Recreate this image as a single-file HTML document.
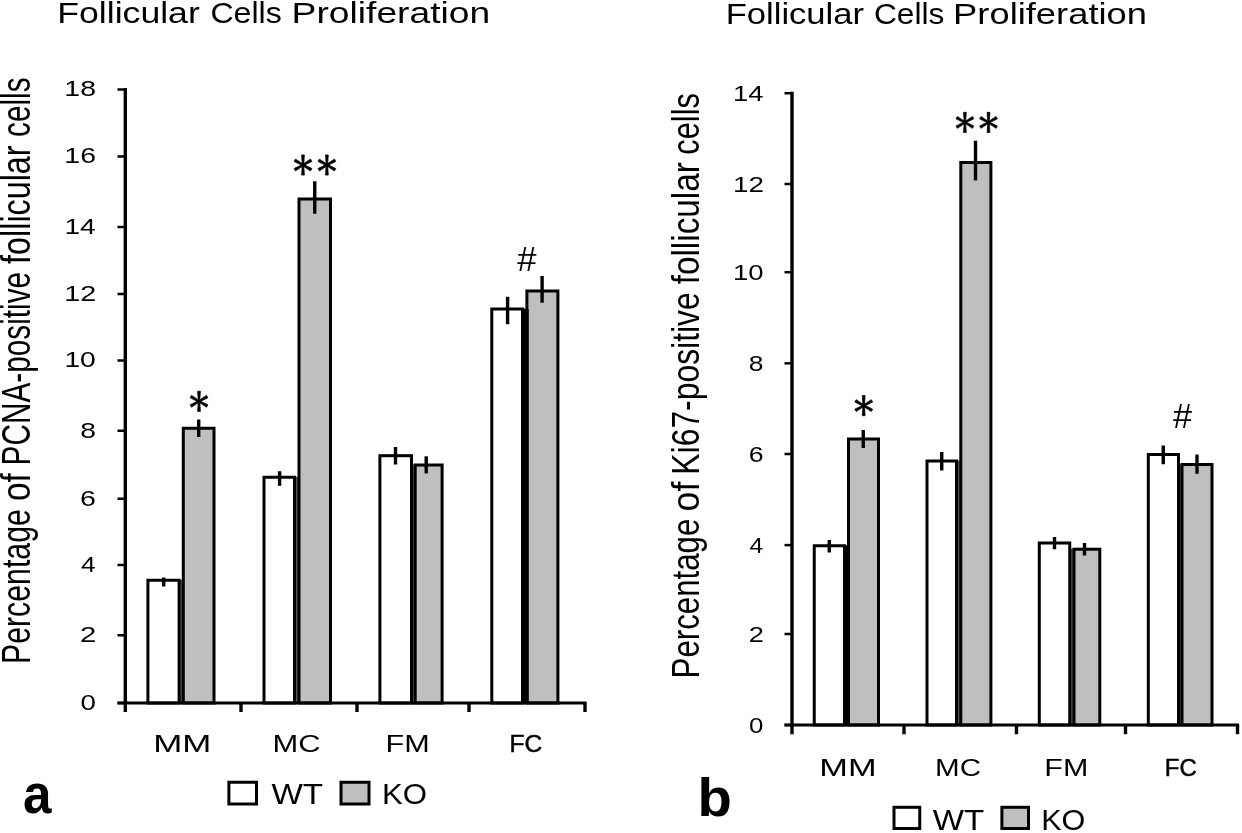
<!DOCTYPE html>
<html><head><meta charset="utf-8"><title>Follicular Cells Proliferation</title>
<style>
html,body{margin:0;padding:0;background:#fff;}
body{width:1242px;height:833px;overflow:hidden;}
svg{display:block;will-change:transform;filter:blur(0.45px);font-family:"Liberation Sans",sans-serif;}
</style></head><body>
<svg width="1242" height="833" viewBox="0 0 1242 833">
<rect width="1242" height="833" fill="#fff"/>
<text transform="translate(57.25,23.00) scale(0.1782,0.1442)" font-size="200" font-weight="normal" fill="#000">Follicular</text>
<text transform="translate(210.39,23.00) scale(0.1607,0.1442)" font-size="200" font-weight="normal" fill="#000">Cells</text>
<text transform="translate(291.62,23.00) scale(0.1861,0.1442)" font-size="200" font-weight="normal" fill="#000">Proliferation</text>
<rect x="179.60" y="579.75" width="3.20" height="123.25" fill="#555"/>
<rect x="295.00" y="476.75" width="3.50" height="226.25" fill="#555"/>
<rect x="412.00" y="464.50" width="2.70" height="238.50" fill="#555"/>
<rect x="523.00" y="308.50" width="3.40" height="394.50" fill="#555"/>
<rect x="147.90" y="580.25" width="31.20" height="122.75" fill="#fff" stroke="#000" stroke-width="3"/>
<rect x="183.30" y="428.25" width="30.70" height="274.75" fill="#bfbfbf" stroke="#000" stroke-width="3"/>
<rect x="264.00" y="477.25" width="30.50" height="225.75" fill="#fff" stroke="#000" stroke-width="3"/>
<rect x="299.00" y="199.00" width="31.50" height="504.00" fill="#bfbfbf" stroke="#000" stroke-width="3"/>
<rect x="379.90" y="455.70" width="31.60" height="247.30" fill="#fff" stroke="#000" stroke-width="3"/>
<rect x="415.20" y="465.00" width="26.90" height="238.00" fill="#bfbfbf" stroke="#000" stroke-width="3"/>
<rect x="491.80" y="309.00" width="30.70" height="394.00" fill="#fff" stroke="#000" stroke-width="3"/>
<rect x="526.90" y="291.00" width="31.00" height="412.00" fill="#bfbfbf" stroke="#000" stroke-width="3"/>
<line x1="163.70" y1="577.50" x2="163.70" y2="586.50" stroke="#000" stroke-width="3.4"/>
<line x1="198.70" y1="419.50" x2="198.70" y2="437.00" stroke="#000" stroke-width="3.4"/>
<line x1="279.60" y1="471.25" x2="279.60" y2="485.75" stroke="#000" stroke-width="3.4"/>
<line x1="314.75" y1="181.25" x2="314.75" y2="213.75" stroke="#000" stroke-width="3.4"/>
<line x1="395.50" y1="447.00" x2="395.50" y2="464.50" stroke="#000" stroke-width="3.4"/>
<line x1="426.20" y1="456.30" x2="426.20" y2="473.40" stroke="#000" stroke-width="3.4"/>
<line x1="507.60" y1="296.80" x2="507.60" y2="324.20" stroke="#000" stroke-width="3.4"/>
<line x1="542.10" y1="276.00" x2="542.10" y2="302.70" stroke="#000" stroke-width="3.4"/>
<line x1="125.30" y1="88.00" x2="125.30" y2="712.00" stroke="#000" stroke-width="3.4"/>
<line x1="117.50" y1="703.00" x2="586.60" y2="703.00" stroke="#000" stroke-width="3.2"/>
<line x1="117.50" y1="703.00" x2="125.30" y2="703.00" stroke="#000" stroke-width="2.5"/>
<line x1="117.50" y1="635.25" x2="125.30" y2="635.25" stroke="#000" stroke-width="2.5"/>
<line x1="117.50" y1="565.00" x2="125.30" y2="565.00" stroke="#000" stroke-width="2.5"/>
<line x1="117.50" y1="498.75" x2="125.30" y2="498.75" stroke="#000" stroke-width="2.5"/>
<line x1="117.50" y1="430.75" x2="125.30" y2="430.75" stroke="#000" stroke-width="2.5"/>
<line x1="117.50" y1="360.50" x2="125.30" y2="360.50" stroke="#000" stroke-width="2.5"/>
<line x1="117.50" y1="294.00" x2="125.30" y2="294.00" stroke="#000" stroke-width="2.5"/>
<line x1="117.50" y1="227.00" x2="125.30" y2="227.00" stroke="#000" stroke-width="2.5"/>
<line x1="117.50" y1="156.50" x2="125.30" y2="156.50" stroke="#000" stroke-width="2.5"/>
<line x1="117.50" y1="89.50" x2="125.30" y2="89.50" stroke="#000" stroke-width="2.5"/>
<line x1="241.00" y1="703.00" x2="241.00" y2="712.00" stroke="#000" stroke-width="3.4"/>
<line x1="357.00" y1="703.00" x2="357.00" y2="712.00" stroke="#000" stroke-width="3.4"/>
<line x1="469.00" y1="703.00" x2="469.00" y2="712.00" stroke="#000" stroke-width="3.4"/>
<line x1="585.00" y1="703.00" x2="585.00" y2="712.00" stroke="#000" stroke-width="3.4"/>
<rect x="521.6" y="309" width="7.1" height="394" fill="#000"/>
<text transform="translate(80.39,709.99) scale(0.1385,0.1070)" font-size="200" font-weight="normal" fill="#000">0</text>
<text transform="translate(80.04,642.24) scale(0.1462,0.1070)" font-size="200" font-weight="normal" fill="#000">2</text>
<text transform="translate(80.97,571.99) scale(0.1317,0.1070)" font-size="200" font-weight="normal" fill="#000">4</text>
<text transform="translate(80.07,505.74) scale(0.1430,0.1070)" font-size="200" font-weight="normal" fill="#000">6</text>
<text transform="translate(80.23,437.74) scale(0.1415,0.1070)" font-size="200" font-weight="normal" fill="#000">8</text>
<text transform="translate(64.38,367.49) scale(0.1415,0.1070)" font-size="200" font-weight="normal" fill="#000">10</text>
<text transform="translate(64.35,300.99) scale(0.1437,0.1070)" font-size="200" font-weight="normal" fill="#000">12</text>
<text transform="translate(64.39,233.99) scale(0.1408,0.1070)" font-size="200" font-weight="normal" fill="#000">14</text>
<text transform="translate(64.37,163.49) scale(0.1422,0.1070)" font-size="200" font-weight="normal" fill="#000">16</text>
<text transform="translate(64.37,96.49) scale(0.1422,0.1070)" font-size="200" font-weight="normal" fill="#000">18</text>
<text transform="translate(30.40,664.02) rotate(-90) scale(0.1514,0.2007)" font-size="200" fill="#000">Percentage</text>
<text transform="translate(30.40,501.03) rotate(-90) scale(0.1667,0.2007)" font-size="200" fill="#000">of</text>
<text transform="translate(30.40,465.38) rotate(-90) scale(0.1489,0.2007)" font-size="200" fill="#000">PCNA-positive</text>
<text transform="translate(30.40,263.88) rotate(-90) scale(0.1615,0.2007)" font-size="200" fill="#000">follicular</text>
<text transform="translate(30.40,136.89) rotate(-90) scale(0.1486,0.2007)" font-size="200" fill="#000">cells</text>
<text transform="translate(153.21,752.30) scale(0.1744,0.1203)" font-size="200" font-weight="normal" fill="#000">MM</text>
<text transform="translate(272.53,752.30) scale(0.1545,0.1203)" font-size="200" font-weight="normal" fill="#000">MC</text>
<text transform="translate(385.55,752.30) scale(0.1531,0.1203)" font-size="200" font-weight="normal" fill="#000">FM</text>
<text transform="translate(509.44,752.30) scale(0.1226,0.1203)" font-size="200" font-weight="normal" fill="#000" stroke="#000" stroke-width="4.08">FC</text>
<text transform="translate(23.06,812.85) scale(0.2561,0.2736)" font-size="200" font-weight="bold" fill="#000">a</text>
<rect x="228.90" y="782.25" width="27.60" height="21.75" fill="#fff" stroke="#000" stroke-width="3"/>
<rect x="341.00" y="782.25" width="28.00" height="21.75" fill="#bfbfbf" stroke="#000" stroke-width="3"/>
<text transform="translate(271.43,803.75) scale(0.1660,0.1449)" font-size="200" font-weight="normal" fill="#000">WT</text>
<text transform="translate(382.01,803.75) scale(0.1559,0.1449)" font-size="200" font-weight="normal" fill="#000">KO</text>
<polygon points="199.75,401.30 200.40,391.20 197.60,391.20 198.25,401.30" fill="#000" stroke="#000" stroke-width="0.7" stroke-linejoin="round"/>
<polygon points="198.25,401.30 197.60,411.40 200.40,411.40 199.75,401.30" fill="#000" stroke="#000" stroke-width="0.7" stroke-linejoin="round"/>
<polygon points="199.38,401.95 207.93,397.76 206.53,395.34 198.62,400.65" fill="#000" stroke="#000" stroke-width="0.7" stroke-linejoin="round"/>
<polygon points="199.38,400.65 191.47,395.34 190.07,397.76 198.62,401.95" fill="#000" stroke="#000" stroke-width="0.7" stroke-linejoin="round"/>
<polygon points="198.62,400.65 190.07,404.84 191.47,407.26 199.38,401.95" fill="#000" stroke="#000" stroke-width="0.7" stroke-linejoin="round"/>
<polygon points="198.62,401.95 206.53,407.26 207.93,404.84 199.38,400.65" fill="#000" stroke="#000" stroke-width="0.7" stroke-linejoin="round"/>
<polygon points="303.75,165.00 304.40,154.90 301.60,154.90 302.25,165.00" fill="#000" stroke="#000" stroke-width="0.7" stroke-linejoin="round"/>
<polygon points="302.25,165.00 301.60,175.10 304.40,175.10 303.75,165.00" fill="#000" stroke="#000" stroke-width="0.7" stroke-linejoin="round"/>
<polygon points="303.38,165.65 311.93,161.46 310.53,159.04 302.62,164.35" fill="#000" stroke="#000" stroke-width="0.7" stroke-linejoin="round"/>
<polygon points="303.38,164.35 295.47,159.04 294.07,161.46 302.62,165.65" fill="#000" stroke="#000" stroke-width="0.7" stroke-linejoin="round"/>
<polygon points="302.62,164.35 294.07,168.54 295.47,170.96 303.38,165.65" fill="#000" stroke="#000" stroke-width="0.7" stroke-linejoin="round"/>
<polygon points="302.62,165.65 310.53,170.96 311.93,168.54 303.38,164.35" fill="#000" stroke="#000" stroke-width="0.7" stroke-linejoin="round"/>
<polygon points="327.65,165.00 328.30,154.90 325.50,154.90 326.15,165.00" fill="#000" stroke="#000" stroke-width="0.7" stroke-linejoin="round"/>
<polygon points="326.15,165.00 325.50,175.10 328.30,175.10 327.65,165.00" fill="#000" stroke="#000" stroke-width="0.7" stroke-linejoin="round"/>
<polygon points="327.27,165.65 335.83,161.46 334.43,159.04 326.52,164.35" fill="#000" stroke="#000" stroke-width="0.7" stroke-linejoin="round"/>
<polygon points="327.27,164.35 319.37,159.04 317.97,161.46 326.52,165.65" fill="#000" stroke="#000" stroke-width="0.7" stroke-linejoin="round"/>
<polygon points="326.52,164.35 317.97,168.54 319.37,170.96 327.27,165.65" fill="#000" stroke="#000" stroke-width="0.7" stroke-linejoin="round"/>
<polygon points="326.52,165.65 334.43,170.96 335.83,168.54 327.27,164.35" fill="#000" stroke="#000" stroke-width="0.7" stroke-linejoin="round"/>
<text transform="translate(517.13,270.80) scale(0.1734,0.1766)" font-size="200" font-weight="normal" fill="#000">#</text>
<text transform="translate(725.63,24.30) scale(0.1731,0.1449)" font-size="200" font-weight="normal" fill="#000">Follicular</text>
<text transform="translate(873.92,24.30) scale(0.1584,0.1449)" font-size="200" font-weight="normal" fill="#000">Cells</text>
<text transform="translate(953.09,24.30) scale(0.1817,0.1449)" font-size="200" font-weight="normal" fill="#000">Proliferation</text>
<rect x="845.00" y="545.25" width="3.00" height="179.75" fill="#555"/>
<rect x="957.00" y="460.50" width="3.30" height="264.50" fill="#555"/>
<rect x="1070.25" y="548.70" width="3.25" height="176.30" fill="#555"/>
<rect x="1179.00" y="464.00" width="2.50" height="261.00" fill="#555"/>
<rect x="814.25" y="545.75" width="30.25" height="179.25" fill="#fff" stroke="#000" stroke-width="3"/>
<rect x="848.50" y="439.00" width="30.00" height="286.00" fill="#bfbfbf" stroke="#000" stroke-width="3"/>
<rect x="927.00" y="461.00" width="29.50" height="264.00" fill="#fff" stroke="#000" stroke-width="3"/>
<rect x="960.80" y="162.50" width="30.10" height="562.50" fill="#bfbfbf" stroke="#000" stroke-width="3"/>
<rect x="1039.30" y="543.00" width="30.45" height="182.00" fill="#fff" stroke="#000" stroke-width="3"/>
<rect x="1074.00" y="549.20" width="25.80" height="175.80" fill="#bfbfbf" stroke="#000" stroke-width="3"/>
<rect x="1148.30" y="454.50" width="30.20" height="270.50" fill="#fff" stroke="#000" stroke-width="3"/>
<rect x="1182.00" y="464.50" width="30.00" height="260.50" fill="#bfbfbf" stroke="#000" stroke-width="3"/>
<line x1="829.25" y1="540.00" x2="829.25" y2="552.50" stroke="#000" stroke-width="3.4"/>
<line x1="863.25" y1="430.00" x2="863.25" y2="448.00" stroke="#000" stroke-width="3.4"/>
<line x1="941.75" y1="452.00" x2="941.75" y2="470.50" stroke="#000" stroke-width="3.4"/>
<line x1="975.50" y1="140.70" x2="975.50" y2="180.40" stroke="#000" stroke-width="3.4"/>
<line x1="1054.50" y1="537.00" x2="1054.50" y2="549.25" stroke="#000" stroke-width="3.4"/>
<line x1="1084.50" y1="543.00" x2="1084.50" y2="555.50" stroke="#000" stroke-width="3.4"/>
<line x1="1163.25" y1="445.50" x2="1163.25" y2="464.25" stroke="#000" stroke-width="3.4"/>
<line x1="1197.00" y1="454.50" x2="1197.00" y2="473.75" stroke="#000" stroke-width="3.4"/>
<line x1="792.00" y1="91.70" x2="792.00" y2="734.25" stroke="#000" stroke-width="3.4"/>
<line x1="784.50" y1="725.00" x2="1239.10" y2="725.00" stroke="#000" stroke-width="3.2"/>
<line x1="784.50" y1="725.00" x2="792.00" y2="725.00" stroke="#000" stroke-width="2.5"/>
<line x1="784.50" y1="634.00" x2="792.00" y2="634.00" stroke="#000" stroke-width="2.5"/>
<line x1="784.50" y1="545.10" x2="792.00" y2="545.10" stroke="#000" stroke-width="2.5"/>
<line x1="784.50" y1="454.00" x2="792.00" y2="454.00" stroke="#000" stroke-width="2.5"/>
<line x1="784.50" y1="363.30" x2="792.00" y2="363.30" stroke="#000" stroke-width="2.5"/>
<line x1="784.50" y1="272.20" x2="792.00" y2="272.20" stroke="#000" stroke-width="2.5"/>
<line x1="784.50" y1="184.00" x2="792.00" y2="184.00" stroke="#000" stroke-width="2.5"/>
<line x1="784.50" y1="93.20" x2="792.00" y2="93.20" stroke="#000" stroke-width="2.5"/>
<line x1="904.00" y1="725.00" x2="904.00" y2="734.25" stroke="#000" stroke-width="3.4"/>
<line x1="1016.50" y1="725.00" x2="1016.50" y2="734.25" stroke="#000" stroke-width="3.4"/>
<line x1="1125.50" y1="725.00" x2="1125.50" y2="734.25" stroke="#000" stroke-width="3.4"/>
<line x1="1237.50" y1="725.00" x2="1237.50" y2="734.25" stroke="#000" stroke-width="3.4"/>
<rect x="843.25" y="546" width="6.5" height="179" fill="#000"/>
<text transform="translate(748.97,732.58) scale(0.1292,0.1113)" font-size="200" font-weight="normal" fill="#000">0</text>
<text transform="translate(748.64,641.58) scale(0.1363,0.1113)" font-size="200" font-weight="normal" fill="#000">2</text>
<text transform="translate(749.51,552.68) scale(0.1228,0.1113)" font-size="200" font-weight="normal" fill="#000">4</text>
<text transform="translate(748.67,461.58) scale(0.1333,0.1113)" font-size="200" font-weight="normal" fill="#000">6</text>
<text transform="translate(748.81,370.88) scale(0.1319,0.1113)" font-size="200" font-weight="normal" fill="#000">8</text>
<text transform="translate(733.04,279.78) scale(0.1375,0.1113)" font-size="200" font-weight="normal" fill="#000">10</text>
<text transform="translate(733.01,191.58) scale(0.1396,0.1113)" font-size="200" font-weight="normal" fill="#000">12</text>
<text transform="translate(733.05,100.78) scale(0.1368,0.1113)" font-size="200" font-weight="normal" fill="#000">14</text>
<text transform="translate(699.30,678.40) rotate(-90) scale(0.1562,0.1938)" font-size="200" fill="#000">Percentage</text>
<text transform="translate(699.30,511.43) rotate(-90) scale(0.1786,0.1938)" font-size="200" fill="#000">of</text>
<text transform="translate(699.30,474.65) rotate(-90) scale(0.1593,0.1938)" font-size="200" fill="#000">Ki67-positive</text>
<text transform="translate(699.30,284.30) rotate(-90) scale(0.1666,0.1938)" font-size="200" fill="#000">follicular</text>
<text transform="translate(699.30,154.73) rotate(-90) scale(0.1540,0.1938)" font-size="200" fill="#000">cells</text>
<text transform="translate(819.25,776.40) scale(0.1719,0.1188)" font-size="200" font-weight="normal" fill="#000">MM</text>
<text transform="translate(935.03,776.40) scale(0.1479,0.1188)" font-size="200" font-weight="normal" fill="#000">MC</text>
<text transform="translate(1044.36,776.40) scale(0.1523,0.1188)" font-size="200" font-weight="normal" fill="#000">FM</text>
<text transform="translate(1164.78,776.40) scale(0.1198,0.1188)" font-size="200" font-weight="normal" fill="#000" stroke="#000" stroke-width="4.18">FC</text>
<text transform="translate(697.54,815.87) scale(0.2812,0.2667)" font-size="200" font-weight="bold" fill="#000">b</text>
<rect x="894.00" y="807.30" width="25.75" height="21.20" fill="#fff" stroke="#000" stroke-width="3"/>
<rect x="1001.90" y="807.30" width="26.60" height="21.20" fill="#bfbfbf" stroke="#000" stroke-width="3"/>
<text transform="translate(932.73,829.50) scale(0.1657,0.1449)" font-size="200" font-weight="normal" fill="#000">WT</text>
<text transform="translate(1041.15,829.50) scale(0.1529,0.1449)" font-size="200" font-weight="normal" fill="#000">KO</text>
<polygon points="864.45,405.60 865.10,395.50 862.30,395.50 862.95,405.60" fill="#000" stroke="#000" stroke-width="0.7" stroke-linejoin="round"/>
<polygon points="862.95,405.60 862.30,415.70 865.10,415.70 864.45,405.60" fill="#000" stroke="#000" stroke-width="0.7" stroke-linejoin="round"/>
<polygon points="864.08,406.25 872.63,402.06 871.23,399.64 863.33,404.95" fill="#000" stroke="#000" stroke-width="0.7" stroke-linejoin="round"/>
<polygon points="864.08,404.95 856.17,399.64 854.77,402.06 863.33,406.25" fill="#000" stroke="#000" stroke-width="0.7" stroke-linejoin="round"/>
<polygon points="863.33,404.95 854.77,409.14 856.17,411.56 864.08,406.25" fill="#000" stroke="#000" stroke-width="0.7" stroke-linejoin="round"/>
<polygon points="863.33,406.25 871.23,411.56 872.63,409.14 864.08,404.95" fill="#000" stroke="#000" stroke-width="0.7" stroke-linejoin="round"/>
<polygon points="965.65,122.40 966.30,112.30 963.50,112.30 964.15,122.40" fill="#000" stroke="#000" stroke-width="0.7" stroke-linejoin="round"/>
<polygon points="964.15,122.40 963.50,132.50 966.30,132.50 965.65,122.40" fill="#000" stroke="#000" stroke-width="0.7" stroke-linejoin="round"/>
<polygon points="965.27,123.05 973.83,118.86 972.43,116.44 964.52,121.75" fill="#000" stroke="#000" stroke-width="0.7" stroke-linejoin="round"/>
<polygon points="965.27,121.75 957.37,116.44 955.97,118.86 964.52,123.05" fill="#000" stroke="#000" stroke-width="0.7" stroke-linejoin="round"/>
<polygon points="964.52,121.75 955.97,125.94 957.37,128.36 965.27,123.05" fill="#000" stroke="#000" stroke-width="0.7" stroke-linejoin="round"/>
<polygon points="964.52,123.05 972.43,128.36 973.83,125.94 965.27,121.75" fill="#000" stroke="#000" stroke-width="0.7" stroke-linejoin="round"/>
<polygon points="989.25,122.40 989.90,112.30 987.10,112.30 987.75,122.40" fill="#000" stroke="#000" stroke-width="0.7" stroke-linejoin="round"/>
<polygon points="987.75,122.40 987.10,132.50 989.90,132.50 989.25,122.40" fill="#000" stroke="#000" stroke-width="0.7" stroke-linejoin="round"/>
<polygon points="988.88,123.05 997.43,118.86 996.03,116.44 988.12,121.75" fill="#000" stroke="#000" stroke-width="0.7" stroke-linejoin="round"/>
<polygon points="988.88,121.75 980.97,116.44 979.57,118.86 988.12,123.05" fill="#000" stroke="#000" stroke-width="0.7" stroke-linejoin="round"/>
<polygon points="988.12,121.75 979.57,125.94 980.97,128.36 988.88,123.05" fill="#000" stroke="#000" stroke-width="0.7" stroke-linejoin="round"/>
<polygon points="988.12,123.05 996.03,128.36 997.43,125.94 988.88,121.75" fill="#000" stroke="#000" stroke-width="0.7" stroke-linejoin="round"/>
<text transform="translate(1173.03,427.80) scale(0.1716,0.1766)" font-size="200" font-weight="normal" fill="#000">#</text>
</svg>
</body></html>
